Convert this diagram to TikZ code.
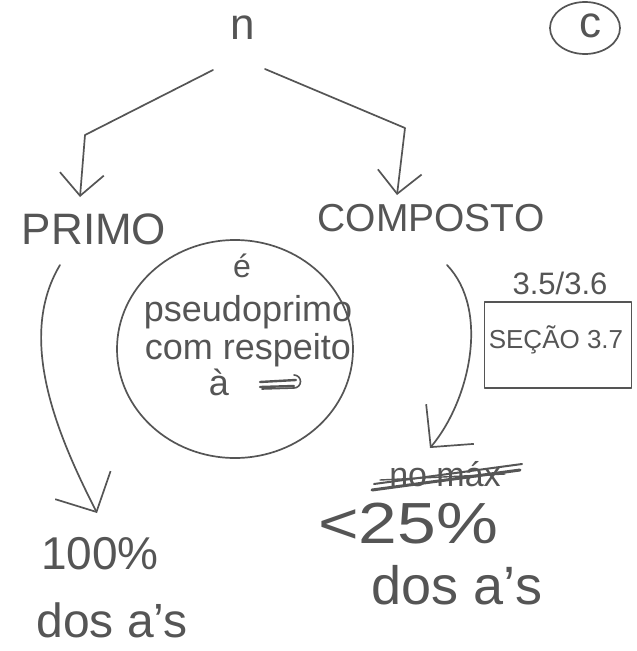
\documentclass[tikz,border=0pt]{standalone}
\usepackage{fontspec}
\setmainfont{Liberation Sans}
\usetikzlibrary{arrows.meta,shapes.geometric}
\definecolor{ink}{HTML}{555555}
\tikzset{
  pen/.style={draw=ink, line width=1.7pt, line cap=round, line join=round},
  hand/.style={text=ink, inner sep=0pt, font=#1},
  hand/.default={\fontsize{44}{48}\selectfont},
  barb/.style={-{Straight Barb[length=22pt,width=44pt,line width=1.7pt]}},
  bigbarb/.style={-{Straight Barb[length=30pt,width=62pt,line width=1.7pt]}},
}
\begin{document}
\begin{tikzpicture}[x=1pt,y=-1pt]
\useasboundingbox (0,0) rectangle (637,651);
\fill[white] (0,0) rectangle (637,651);

% top labels
\node[hand={\fontsize{44}{48}\selectfont}] (n) at (243,28) {n};
\node[pen, ellipse, minimum width=70pt, minimum height=52pt, inner sep=0pt] (c) at (585,28) {};
\node[hand={\fontsize{44}{48}\selectfont}] (cl) at (590,26) {c};

\node[hand] (primo) at (94,229) {PRIMO};
\node[hand={\fontsize{39}{43}\selectfont}] (comp) at (431,218) {COMPOSTO};

% branches
\coordinate (nl) at (213,70);
\coordinate (nr) at (265,69);
\coordinate (kl) at (85,135);
\coordinate (kr) at (405,128);
\coordinate (pt) at (80,197);
\coordinate (ct) at (397,195);
\draw[pen, barb] (nl) -- (kl) -- (pt);
\draw[pen, barb] (nr) -- (kr) -- (ct);

% circle with text
\node[pen, ellipse, minimum width=236pt, minimum height=218pt] (circ) at (235,349) {};
\node[hand={\fontsize{32}{34}\selectfont}] (e) at (242,266) {é};
\node[hand={\fontsize{36}{40}\selectfont}] (l1) at (248,312) {pseudoprimo};
\node[hand={\fontsize{36}{40}\selectfont}] (l2) at (248,350) {com respeito};
\node[hand={\fontsize{36}{40}\selectfont}] (l3) at (219,382) {à};
\draw[pen, line width=2.4pt] (260,382) -- (296,380) (260,387) -- (294,386);
\draw[pen, line width=1.6pt] (294,375) arc[start angle=90, end angle=-90, radius=6.5pt] -- (262,389);

% percentages
\node[hand={\fontsize{46}{50}\selectfont}] (p100) at (100,554) {100\%};
\node[hand={\fontsize{48}{52}\selectfont}] (d1) at (112,620) {dos a's};
\node[hand={\fontsize{58}{62}\selectfont}] (p25) at (408,524) {\scalebox{1.2}[1]{<25\%}};
\node[hand={\fontsize{54}{58}\selectfont}] (d2) at (457,585) {dos a's};

% struck out
\node[hand={\fontsize{34}{36}\selectfont}] (nomax) at (445,474) {no máx};
\draw[pen, line width=3pt] (372,490) -- (520,470);
\draw[pen, line width=2pt] (374,484) -- (522,464);
\draw[pen, line width=1.4pt] (380,480) -- (505,474);

% curved arrows
\coordinate (ps) at (60,265);
\coordinate (pe) at (97,513);
\draw[pen, bigbarb] (ps) .. controls (15,340) and (60,440) .. (pe);
\coordinate (cs) at (447,265);
\coordinate (ce) at (430,448);
\draw[pen, bigbarb] (cs) .. controls (490,310) and (470,400) .. (ce);

% section box
\node[hand={\fontsize{31}{33}\selectfont}] (sec) at (560,283) {3.5/3.6};
\node[pen, minimum width=147pt, minimum height=86pt] (box) at (558,345) {};
\node[hand={\fontsize{26}{28}\selectfont}] (seca) at (556,340) {SEÇÃO 3.7};
\end{tikzpicture}
\end{document}
